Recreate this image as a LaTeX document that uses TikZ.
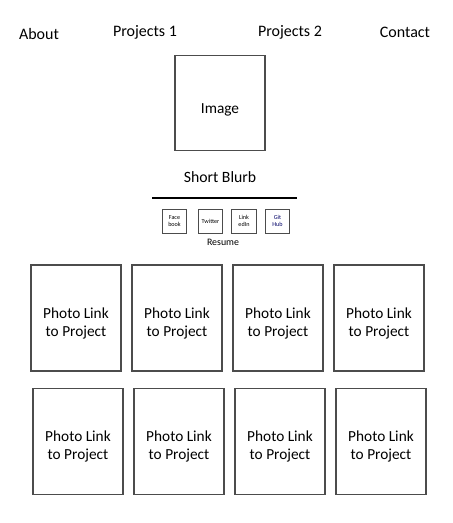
\documentclass[tikz,border=0pt]{standalone}
\usepackage{fontspec}
\setmainfont{Carlito}
\begin{document}
\begin{tikzpicture}[x=0.75pt,y=-0.75pt,
  navtext/.style={font=\fontsize{12}{14}\selectfont, inner sep=0pt},
  frame/.style={draw=black!70, line width=0.8pt},
  tilebox/.style={frame, minimum width=67.5pt, minimum height=79.5pt, inner sep=0pt},
  tiletext/.style={align=center, inner sep=0pt, font=\fontsize{11.5}{13.5}\selectfont},
  socialbox/.style={frame, line width=0.6pt, minimum width=18.5pt, minimum height=18pt, inner sep=0pt,
    align=center, font=\fontsize{4.6}{5.6}\selectfont}]
\useasboundingbox (0,0) rectangle (452,523);
% navigation bar
\node[navtext] (about) at (39,34) {About};
\node[navtext] (proj1) at (145,32) {Projects 1};
\node[navtext] (proj2) at (290,32) {Projects 2};
\node[navtext] (contact) at (405,32) {Contact};
% profile image and blurb
\node[frame, minimum width=67.5pt, minimum height=71pt, inner sep=0pt] (image) at (220,103) {};
\node[inner sep=0pt, font=\fontsize{11.5}{13}\selectfont] (imagelabel) at (220,110) {Image};
\node[inner sep=0pt, font=\fontsize{11.8}{13}\selectfont] (blurb) at (220,177) {Short Blurb};
\coordinate (ruleL) at (152,198);
\coordinate (ruleR) at (297,198);
\draw[line width=1.2pt] (ruleL) -- (ruleR);
% social links
\node[socialbox] (fb) at (174.5,221) {Face\\book};
\node[socialbox] (tw) at (210.5,221) {Twitter};
\node[socialbox] (li) at (244,221) {Link\\edIn};
\node[socialbox, text=blue!40!black] (gh) at (277.5,221) {Git\\Hub};
\node[inner sep=0pt, font=\fontsize{7.4}{9}\selectfont] (resume) at (223,242) {Resume};
% project tiles
\foreach \i/\x in {1/76,2/177,3/278,4/379} {
  \node[tilebox] (r1p\i) at (\x,318) {};
  \node[tiletext] (r1t\i) at (\x,323) {Photo Link\\to Project};
}
\foreach \i/\x in {1/78,2/179,3/280,4/381} {
  \node[tilebox] (r2p\i) at (\x,441.5) {};
  \node[tiletext] (r2t\i) at (\x,446.5) {Photo Link\\to Project};
}
\end{tikzpicture}
\end{document}
